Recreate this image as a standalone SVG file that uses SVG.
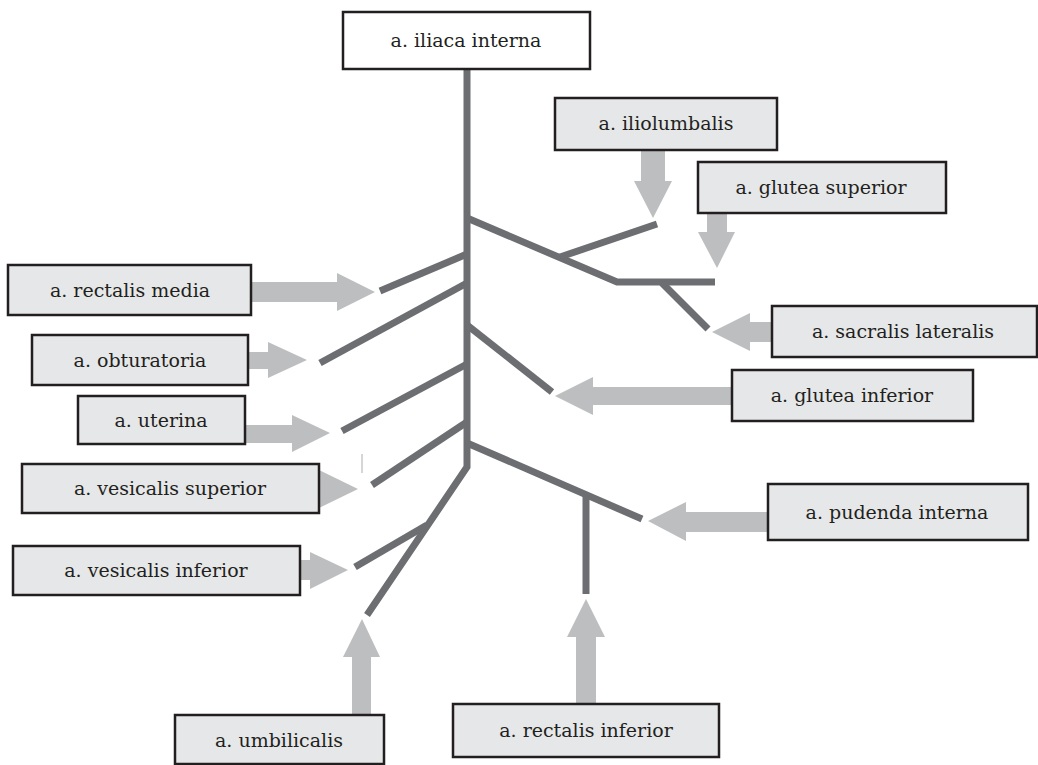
<svg xmlns="http://www.w3.org/2000/svg" width="1038" height="765" viewBox="0 0 1038 765">
<style>
.box{fill:#e6e7e8;stroke:#231f20;stroke-width:2.5}
.top{fill:#ffffff;stroke:#231f20;stroke-width:2.5}
.lbl{font-family:"DejaVu Serif","Liberation Serif",serif;font-size:19px;fill:#231f20;text-anchor:middle}
.br{fill:none;stroke:#6d6e71;stroke-width:7;stroke-linecap:butt;stroke-linejoin:miter}
.arr{fill:#bcbec0;stroke:none}
</style>
<rect width="1038" height="765" fill="#ffffff"/>
<g id="connectors">
  <polyline class="br" points="467,69 467,467 367,615"/>
  <line class="br" x1="380" y1="291" x2="467" y2="254"/>
  <line class="br" x1="320" y1="363" x2="467" y2="283"/>
  <line class="br" x1="342" y1="431" x2="467" y2="364"/>
  <line class="br" x1="372" y1="485" x2="467" y2="422"/>
  <line class="br" x1="355" y1="567" x2="427" y2="525"/>
  <polyline class="br" points="467,218 617,282 715,282"/>
  <line class="br" x1="560" y1="257" x2="657" y2="224"/>
  <line class="br" x1="662" y1="283" x2="708" y2="329"/>
  <line class="br" x1="467" y1="325" x2="552" y2="392"/>
  <line class="br" x1="467" y1="443" x2="642" y2="519"/>
  <line class="br" x1="586" y1="495" x2="586" y2="594"/>
  <line x1="362" y1="454" x2="362" y2="473" stroke="#c8c9cb" stroke-width="1.5"/>
  <polygon class="arr" points="641,150 665,150 665,181 672,181 653,218 634,181 641,181"/>
  <polygon class="arr" points="707,213 727,213 727,232 735,232 717,268 698,232 707,232"/>
  <polygon class="arr" points="772,322 750,322 750,313 712,332 750,351 750,342 772,342"/>
  <polygon class="arr" points="732,387 593,387 593,377 555,396 593,415 593,405 732,405"/>
  <polygon class="arr" points="768,512 686,512 686,502 648,521 686,541 686,532 768,532"/>
  <polygon class="arr" points="576,704 576,637 567,637 586,599 605,637 596,637 596,704"/>
  <polygon class="arr" points="352,715 352,657 343,657 362,619 380,657 371,657 371,715"/>
  <polygon class="arr" points="300,560 310,560 310,552 348,570 310,589 310,580 300,580"/>
  <polygon class="arr" points="319,470 358,489 319,508"/>
  <polygon class="arr" points="245,425 292,425 292,415 330,433 292,452 292,443 245,443"/>
  <polygon class="arr" points="248,352 268,352 268,342 307,360 268,378 268,369 248,369"/>
  <polygon class="arr" points="251,282 337,282 337,273 375,292 337,311 337,302 251,302"/>
</g>
<g id="iliaca_interna"><rect class="top" x="343" y="12" width="247" height="57"/><text class="lbl" x="466" y="47">a. iliaca interna</text></g>
<g id="iliolumbalis"><rect class="box" x="555" y="98" width="222" height="52"/><text class="lbl" x="666" y="130">a. iliolumbalis</text></g>
<g id="glutea_superior"><rect class="box" x="698" y="162" width="248" height="51"/><text class="lbl" x="821" y="194">a. glutea superior</text></g>
<g id="rectalis_media"><rect class="box" x="8" y="265" width="243" height="50"/><text class="lbl" x="130" y="297">a. rectalis media</text></g>
<g id="obturatoria"><rect class="box" x="32" y="335" width="216" height="50"/><text class="lbl" x="140" y="367">a. obturatoria</text></g>
<g id="uterina"><rect class="box" x="78" y="396" width="167" height="48"/><text class="lbl" x="161" y="427">a. uterina</text></g>
<g id="vesicalis_superior"><rect class="box" x="22" y="464" width="297" height="49"/><text class="lbl" x="170" y="495">a. vesicalis superior</text></g>
<g id="vesicalis_inferior"><rect class="box" x="13" y="546" width="287" height="49"/><text class="lbl" x="156" y="577">a. vesicalis inferior</text></g>
<g id="umbilicalis"><rect class="box" x="175" y="715" width="209" height="49"/><text class="lbl" x="279" y="747">a. umbilicalis</text></g>
<g id="rectalis_inferior"><rect class="box" x="453" y="704" width="266" height="53"/><text class="lbl" x="586" y="737">a. rectalis inferior</text></g>
<g id="pudenda_interna"><rect class="box" x="768" y="484" width="260" height="56"/><text class="lbl" x="897" y="519">a. pudenda interna</text></g>
<g id="sacralis_lateralis"><rect class="box" x="772" y="306" width="265" height="51"/><text class="lbl" x="903" y="338">a. sacralis lateralis</text></g>
<g id="glutea_inferior"><rect class="box" x="732" y="370" width="241" height="51"/><text class="lbl" x="852" y="402">a. glutea inferior</text></g>
</svg>
